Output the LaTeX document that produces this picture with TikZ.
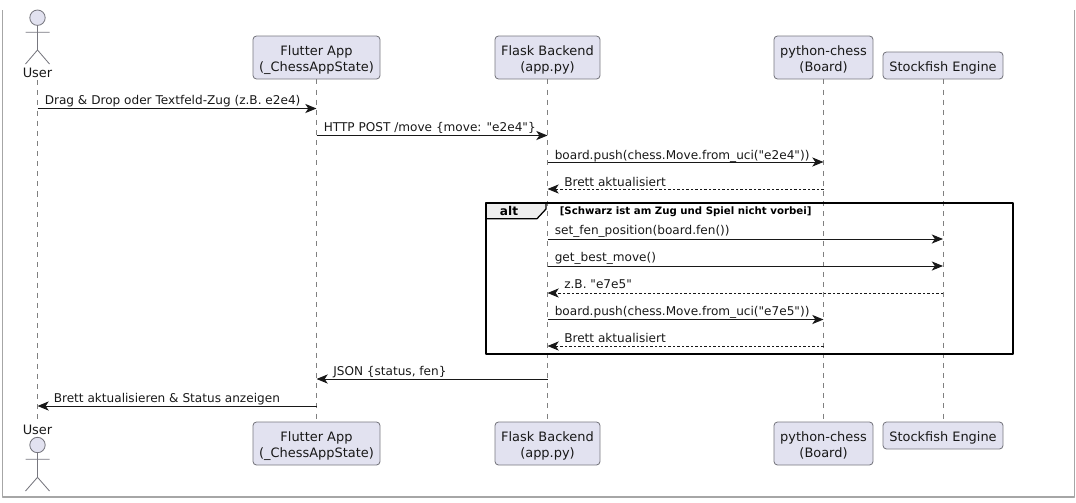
\documentclass[tikz,border=0pt]{standalone}
\usepackage{fontspec}
\setmainfont[Ligatures=TeXOff]{DejaVu Sans}
\usetikzlibrary{arrows.meta}
\definecolor{boxfill}{HTML}{E2E2F0}
\definecolor{boxline}{HTML}{77777F}
\definecolor{msgline}{HTML}{181818}
\definecolor{lifeline}{HTML}{808080}
\definecolor{tabfill}{HTML}{EEEEEE}
\newcommand{\topstrut}{\rule{0pt}{10.2pt}}
\tikzset{
  part/.style={draw=boxline,fill=boxfill,rounded corners=2.5,line width=0.6pt,align=center,inner sep=0pt,font=\fontsize{9.2}{11.2}\selectfont,text=msgline},
  wide/.style={minimum width=#1*0.025cm,minimum height=43*0.025cm},
  flat/.style={minimum width=#1*0.025cm,minimum height=27*0.025cm},
  actorlabel/.style={inner sep=0pt,outer sep=2pt,font=\fontsize{9.2}{11.2}\selectfont,text=msgline},
  stick/.style={draw=boxline,line width=0.6pt},
  life/.style={draw=lifeline,line width=0.6pt,dash pattern=on 3.6pt off 3.6pt},
  msg/.style={draw=msgline,line width=0.7pt,-{Stealth[length=8pt,width=6.5pt,inset=2.2pt]}},
  reply/.style={msg,line width=0.65pt,dash pattern=on 1.6pt off 1.6pt},
  lbl/.style={anchor=base west,inner sep=0pt,font=\fontsize{8.6}{10}\selectfont,text=msgline},
}
\begin{document}
\begin{tikzpicture}[x=0.025cm,y=-0.025cm,line join=round]
  \useasboundingbox (0,0) rectangle (1076,502);
  % outer frame
  \draw [draw=black!35,line width=0.8pt] (2.5,10) -- (2.5,497) -- (1074.5,497) -- (1074.5,10);

  % participants, top row
  \node [actorlabel] (user) at (37.5,72.5) {User};
  \node [part,wide=127] (flutter) at (316.5,57.5) {\topstrut Flutter App\\(\_ChessAppState)};
  \node [part,wide=105] (flask) at (547.5,57.5) {\topstrut Flask Backend\\(app.py)};
  \node [part,wide=99] (board) at (823.5,57.5) {\topstrut python-chess\\(Board)};
  \node [part,flat=120] (engine) at (943,65.5) {\topstrut Stockfish Engine};
  % participants, bottom row
  \node [actorlabel] (userb) at (37.5,429.5) {User};
  \node [part,wide=127] (flutterb) at (316.5,443.5) {\topstrut Flutter App\\(\_ChessAppState)};
  \node [part,wide=105] (flaskb) at (547.5,443.5) {\topstrut Flask Backend\\(app.py)};
  \node [part,wide=99] (boardb) at (823.5,443.5) {\topstrut python-chess\\(Board)};
  \node [part,flat=120] (engineb) at (943,435.5) {\topstrut Stockfish Engine};

  % stick figures
  \draw [stick,fill=boxfill] (37.5,17.7) circle (7.7);
  \draw [stick] (37.5,25.4) -- (37.5,50) (25.5,32.3) -- (49.5,32.3) (25.5,64) -- (37.5,50) -- (49.5,64);
  \draw [stick,fill=boxfill] (37.5,445) circle (7.7);
  \draw [stick] (37.5,452.7) -- (37.5,477.3) (25.5,459.3) -- (49.5,459.3) (25.5,491) -- (37.5,477.3) -- (49.5,491);

  % lifelines
  \draw [life] (user.south) -- (userb.north);
  \draw [life] (flutter.south) -- (flutterb.north);
  \draw [life] (flask.south) -- (flaskb.north);
  \draw [life] (board.south) -- (boardb.north);
  \draw [life] (engine.south) -- (engineb.north);

  % alt frame
  \draw [fill=tabfill,draw=black,line width=0.9pt] (486,203) -- (546,203) -- (546,209) -- (537,218.7) -- (486,218.7) -- cycle;
  \draw [draw=black,line width=1.3pt] (486,203) rectangle (1013,354);
  \node [inner sep=0pt,font=\fontsize{8.6}{10}\selectfont\bfseries,text=black] (alttag) at (509,211) {alt};
  \node [lbl,font=\fontsize{7.25}{9}\selectfont\bfseries,text=black] (guard) at (559.5,214.5) {[Schwarz ist am Zug und Spiel nicht vorbei]};

  % rows
  \coordinate (r1) at (0,108.5);
  \coordinate (r2) at (0,135.5);
  \coordinate (r3) at (0,162);
  \coordinate (r4) at (0,189);
  \coordinate (r5) at (0,239);
  \coordinate (r6) at (0,266);
  \coordinate (r7) at (0,293);
  \coordinate (r8) at (0,319.5);
  \coordinate (r9) at (0,346);
  \coordinate (r10) at (0,379);
  \coordinate (r11) at (0,406);

  % messages
  \draw [msg] (user |- r1) -- (flutter |- r1);
  \node [lbl] (t1) at (44.5,104) {Drag \& Drop oder Textfeld-Zug (z.B. e2e4)};
  \draw [msg] (flutter |- r2) -- (flask |- r2);
  \node [lbl] (t2) at (323.5,131) {HTTP POST /move \{move: "e2e4"\}};
  \draw [msg] (flask |- r3) -- (board |- r3);
  \node [lbl] (t3) at (554.5,159) {board.push(chess.Move.from\_uci("e2e4"))};
  \draw [reply] (board |- r4) -- (flask |- r4);
  \node [lbl] (t4) at (564,186) {Brett aktualisiert};
  \draw [msg] (flask |- r5) -- (engine |- r5);
  \node [lbl] (t5) at (554.5,234.5) {set\_fen\_position(board.fen())};
  \draw [msg] (flask |- r6) -- (engine |- r6);
  \node [lbl] (t6) at (554.5,261.5) {get\_best\_move()};
  \draw [reply] (engine |- r7) -- (flask |- r7);
  \node [lbl] (t7) at (564,288.5) {z.B. "e7e5"};
  \draw [msg] (flask |- r8) -- (board |- r8);
  \node [lbl] (t8) at (554.5,315) {board.push(chess.Move.from\_uci("e7e5"))};
  \draw [reply] (board |- r9) -- (flask |- r9);
  \node [lbl] (t9) at (564,342) {Brett aktualisiert};
  \draw [msg] (flask |- r10) -- (flutter |- r10);
  \node [lbl] (t10) at (333,375) {JSON \{status, fen\}};
  \draw [msg] (flutter |- r11) -- (user |- r11);
  \node [lbl] (t11) at (53.5,402) {Brett aktualisieren \& Status anzeigen};
\end{tikzpicture}
\end{document}
